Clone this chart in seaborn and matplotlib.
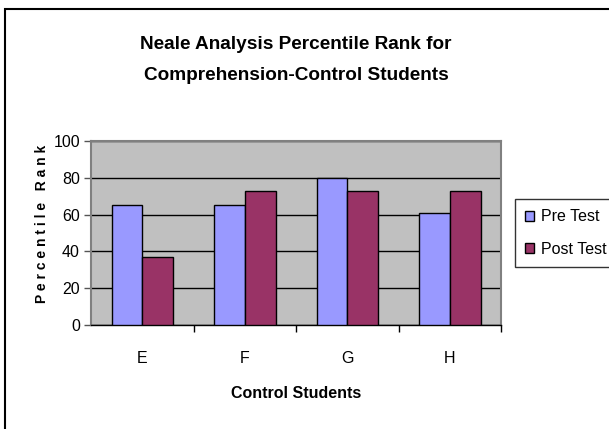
import matplotlib
matplotlib.use("Agg")
import matplotlib.pyplot as plt
from matplotlib.patches import Rectangle
import seaborn as sns
import pandas as pd

students = ["E", "F", "G", "H"]
pre_test = [65, 65, 80, 61]
post_test = [37, 73, 73, 73]
series_names = ["Pre Test", "Post Test"]

sns.set_style("white")
plt.rcParams['font.family'] = ['Liberation Sans', 'DejaVu Sans']
plt.rcParams['text.color'] = 'black'
plt.rcParams['axes.labelcolor'] = 'black'
plt.rcParams['xtick.color'] = 'black'
plt.rcParams['ytick.color'] = 'black'

rows = []
for s, a, b in zip(students, pre_test, post_test):
    rows.append([s, a, series_names[0]])
    rows.append([s, b, series_names[1]])
df = pd.DataFrame(rows, columns=["student", "rank", "test"])

fig = plt.figure(figsize=(6.09, 4.29), dpi=100)
ax = fig.add_axes([91/609, 1-325/429, 410/609, 184/429])
ax.set_facecolor("#C0C0C0")

sns.barplot(data=df, x="student", y="rank", hue="test", ax=ax,
            palette=["#9999FF", "#993366"], width=0.6, gap=0,
            edgecolor="black", linewidth=1, saturation=1, zorder=3)

ax.set_ylim(0, 100)
ax.set_xlim(-0.5, 3.5)
ax.set_yticks([0, 20, 40, 60, 80, 100])
ax.yaxis.grid(True, color="black", linewidth=1, zorder=1)
ax.set_axisbelow(True)
ax.tick_params(axis="y", length=5, width=1, color="#555555", labelsize=11.5, pad=3, left=True)
ax.set_xticks([0.5, 1.5, 2.5, 3.5], minor=True)
ax.set_xticks(range(4))
ax.set_xticklabels(students)
ax.tick_params(axis="x", which="major", length=0, labelsize=11.5, pad=19)
ax.tick_params(axis="x", which="minor", length=5, width=1, color="black", bottom=True)

for side in ["top", "right", "left"]:
    ax.spines[side].set_color("#808080")
    ax.spines[side].set_linewidth(1.5)
ax.spines["bottom"].set_color("black")
ax.spines["bottom"].set_linewidth(1)

ax.set_xlabel("Control Students", fontsize=11.5, fontweight="bold", labelpad=14)
ax.set_ylabel("P e r c e n t i l e   R a n k", fontsize=10, fontweight="bold")
ax.yaxis.set_label_coords(-0.102, 0.55)

fig.text(296/609, 1-60/429, "Neale Analysis Percentile Rank for\nComprehension-Control Students",
         ha="center", va="center", fontsize=13.7, fontweight="bold", linespacing=2.12)

leg = ax.legend(loc="upper left", bbox_to_anchor=(515/609, 1-199/429),
                bbox_transform=fig.transFigure, frameon=True, fancybox=False,
                edgecolor="black", fontsize=11.5, handlelength=0.55, handleheight=0.55,
                handletextpad=0.4, borderpad=0.65, labelspacing=1.1, borderaxespad=0)
leg.get_frame().set_linewidth(1)
for h in leg.legend_handles:
    h.set_edgecolor("black")
    h.set_linewidth(1)

fig.patches.append(Rectangle((5/609, -0.1), 1.2, (420/429)+0.1, transform=fig.transFigure,
                             fill=False, edgecolor="black", linewidth=1.5, figure=fig))

fig.savefig("out.png", dpi=100)
